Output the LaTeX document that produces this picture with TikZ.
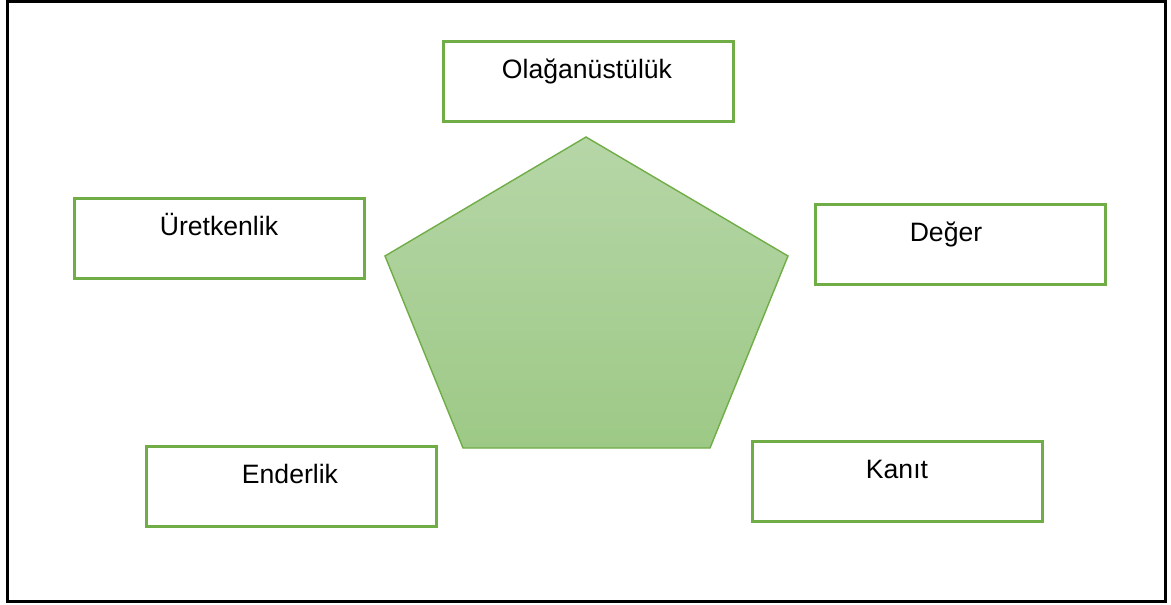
\documentclass[tikz,border=0pt]{standalone}
\usepackage{fontspec}
\setmainfont{Liberation Sans}
\definecolor{boxgreen}{RGB}{112,173,71}
\definecolor{penttop}{RGB}{182,214,167}
\definecolor{pentbot}{RGB}{157,201,134}
\begin{document}
\begin{tikzpicture}[x=1pt,y=-1pt,
  box/.style={draw=boxgreen, line width=3pt, fill=white, minimum width=290pt, minimum height=80pt, inner sep=0pt},
  lbl/.style={anchor=base, inner sep=0pt, font=\fontsize{26.6}{30}\selectfont}]
\useasboundingbox (0,0) rectangle (1171,605);
% outer frame
\draw[line width=3pt] (7,1.8) rectangle (1165,601);
% central pentagon
\coordinate (pt) at (586,137);
\coordinate (pr) at (788,256);
\coordinate (pbr) at (710,448);
\coordinate (pbl) at (463,448);
\coordinate (pl) at (385,256);
\draw[draw=boxgreen, line width=1.4pt, top color=penttop, bottom color=pentbot]
  (pt) -- (pr) -- (pbr) -- (pbl) -- (pl) -- cycle;
% surrounding boxes
\node[box] (b1) at (588,81) {};
\node[box] (b2) at (219,238) {};
\node[box] (b3) at (960,244) {};
\node[box] (b4) at (291,486) {};
\node[box] (b5) at (897,481) {};
\node[lbl] (t1) at (587,78) {Olağanüstülük};
\node[lbl] (t2) at (219,235) {Üretkenlik};
\node[lbl] (t3) at (946,241) {Değer};
\node[lbl] (t4) at (290,483) {Enderlik};
\node[lbl] (t5) at (897,478) {Kanıt};
\end{tikzpicture}
\end{document}
